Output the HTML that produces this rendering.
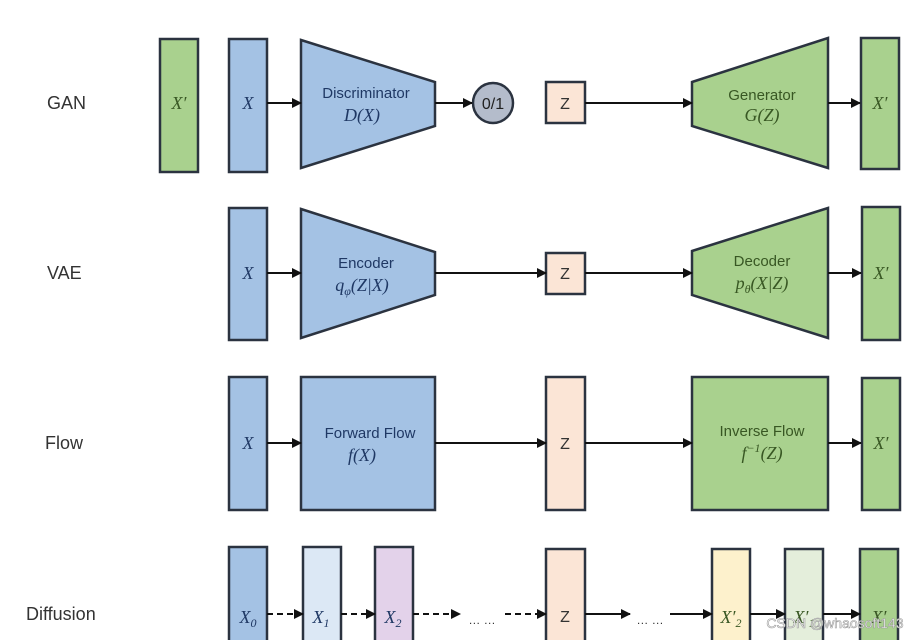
<!DOCTYPE html>
<html><head><meta charset="utf-8"><style>
body{margin:0;background:#fff;width:920px;height:640px;overflow:hidden}
svg{display:block}
.lbl{font-family:"Liberation Sans",sans-serif;font-size:18px;fill:#333}
.t{font-family:"Liberation Sans",sans-serif;font-size:15px}
.m{font-family:"Liberation Serif",serif;font-style:italic;font-size:18px}
</style></head><body>
<svg width="920" height="640" viewBox="0 0 920 640">
<defs><marker id="a" markerWidth="10" markerHeight="10" refX="9" refY="5" orient="auto" markerUnits="userSpaceOnUse"><path d="M0,0 L10,5 L0,10z" fill="#111"/></marker></defs>
<g stroke="#2b3340" stroke-width="2.5">
<!-- GAN -->
<rect x="160" y="39" width="38" height="133" fill="#a9d18e"/>
<rect x="229" y="39" width="38" height="133" fill="#a4c2e4"/>
<polygon points="301,40 435,82 435,126 301,168" fill="#a4c2e4"/>
<circle cx="493" cy="103" r="20" fill="#b4bccb"/>
<rect x="546" y="82" width="39" height="41" fill="#fbe5d6"/>
<polygon points="692,82 828,38 828,168 692,126" fill="#a9d18e"/>
<rect x="861" y="38" width="38" height="131" fill="#a9d18e"/>
<!-- VAE -->
<rect x="229" y="208" width="38" height="132" fill="#a4c2e4"/>
<polygon points="301,209 435,252 435,295 301,338" fill="#a4c2e4"/>
<rect x="546" y="253" width="39" height="41" fill="#fbe5d6"/>
<polygon points="692,251 828,208 828,338 692,295" fill="#a9d18e"/>
<rect x="862" y="207" width="38" height="133" fill="#a9d18e"/>
<!-- Flow -->
<rect x="229" y="377" width="38" height="133" fill="#a4c2e4"/>
<rect x="301" y="377" width="134" height="133" fill="#a4c2e4"/>
<rect x="546" y="377" width="39" height="133" fill="#fbe5d6"/>
<rect x="692" y="377" width="136" height="133" fill="#a9d18e"/>
<rect x="862" y="378" width="38" height="132" fill="#a9d18e"/>
<!-- Diffusion -->
<rect x="229" y="547" width="38" height="100" fill="#a4c2e4"/>
<rect x="303" y="547" width="38" height="100" fill="#dce8f5"/>
<rect x="375" y="547" width="38" height="100" fill="#e3d2ea"/>
<rect x="546" y="549" width="39" height="100" fill="#fbe5d6"/>
<rect x="712" y="549" width="38" height="100" fill="#fdf1cc"/>
<rect x="785" y="549" width="38" height="100" fill="#e4eedb"/>
<rect x="860" y="549" width="38" height="100" fill="#a9d18e"/>
</g>
<g stroke="#111" stroke-width="2" marker-end="url(#a)" fill="none">
<line x1="267" y1="103" x2="301" y2="103"/>
<line x1="435" y1="103" x2="472" y2="103"/>
<line x1="585" y1="103" x2="692" y2="103"/>
<line x1="828" y1="103" x2="860" y2="103"/>
<line x1="267" y1="273" x2="301" y2="273"/>
<line x1="435" y1="273" x2="546" y2="273"/>
<line x1="585" y1="273" x2="692" y2="273"/>
<line x1="828" y1="273" x2="861" y2="273"/>
<line x1="267" y1="443" x2="301" y2="443"/>
<line x1="435" y1="443" x2="546" y2="443"/>
<line x1="585" y1="443" x2="692" y2="443"/>
<line x1="828" y1="443" x2="861" y2="443"/>
<line x1="267" y1="614" x2="303" y2="614" stroke-dasharray="6,4"/>
<line x1="341" y1="614" x2="375" y2="614" stroke-dasharray="6,4"/>
<line x1="413" y1="614" x2="460" y2="614" stroke-dasharray="6,4"/>
<line x1="505" y1="614" x2="546" y2="614" stroke-dasharray="6,4"/>
<line x1="585" y1="614" x2="630" y2="614"/>
<line x1="670" y1="614" x2="712" y2="614"/>
<line x1="750" y1="614" x2="785" y2="614"/>
<line x1="823" y1="614" x2="860" y2="614"/>
</g>
<g class="lbl"><text x="47" y="109">GAN</text><text x="47" y="279">VAE</text><text x="45" y="449">Flow</text><text x="26" y="620">Diffusion</text></g>
<g class="m" text-anchor="middle">
<text x="179" y="109" fill="#385723">X′</text>
<text x="248" y="109" fill="#1f3864">X</text>
<text x="880" y="109" fill="#385723">X′</text>
<text x="248" y="279" fill="#1f3864">X</text>
<text x="881" y="279" fill="#385723">X′</text>
<text x="248" y="449" fill="#1f3864">X</text>
<text x="881" y="449" fill="#385723">X′</text>
<text x="248" y="623" fill="#1f3864">X<tspan font-size="12" dy="4">0</tspan></text>
<text x="321" y="623" fill="#1f3864">X<tspan font-size="12" dy="4">1</tspan></text>
<text x="393" y="623" fill="#1f3864">X<tspan font-size="12" dy="4">2</tspan></text>
<text x="731" y="623" fill="#385723">X′<tspan font-size="12" dy="4">2</tspan></text>
<text x="804" y="623" fill="#385723">X′<tspan font-size="12" dy="4">1</tspan></text>
<text x="879" y="623" fill="#385723">X′</text>
<text x="362" y="121" fill="#1f3864">D(X)</text>
<text x="362" y="291" fill="#1f3864">q<tspan font-size="12" dy="4">φ</tspan><tspan dy="-4">(Z|X)</tspan></text>
<text x="362" y="461" fill="#1f3864">f(X)</text>
<text x="762" y="121" fill="#385723">G(Z)</text>
<text x="762" y="289" fill="#385723">p<tspan font-size="12" dy="4">θ</tspan><tspan dy="-4">(X|Z)</tspan></text>
<text x="762" y="459" fill="#385723">f<tspan font-size="12" dy="-7">−1</tspan><tspan dy="7">(Z)</tspan></text>
</g>
<g class="t" text-anchor="middle">
<text x="366" y="98" fill="#1f3864">Discriminator</text>
<text x="366" y="268" fill="#1f3864">Encoder</text>
<text x="370" y="438" fill="#1f3864">Forward Flow</text>
<text x="762" y="100" fill="#385723">Generator</text>
<text x="762" y="266" fill="#385723">Decoder</text>
<text x="762" y="436" fill="#385723">Inverse Flow</text>
<text x="493" y="109" fill="#222" font-size="16">0/1</text>
<text x="565" y="109" fill="#333" font-size="16">Z</text>
<text x="565" y="279" fill="#333" font-size="16">Z</text>
<text x="565" y="449" fill="#333" font-size="16">Z</text>
<text x="565" y="622" fill="#333" font-size="16">Z</text>
<text x="482" y="624" fill="#333" font-size="12">… …</text>
<text x="650" y="624" fill="#333" font-size="12">… …</text>
</g>
<text x="835" y="628" text-anchor="middle" font-family="Liberation Sans,sans-serif" font-size="14" fill="#fff" stroke="#999" stroke-width="0.6">CSDN @whaosoft143</text>
</svg>
</body></html>
